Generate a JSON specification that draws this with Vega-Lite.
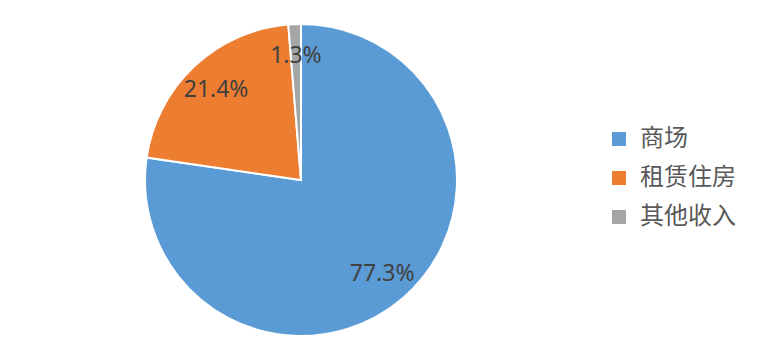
{
  "$schema": "https://vega.github.io/schema/vega-lite/v6.json",
  "width": 312,
  "height": 312,
  "padding": {"left": 145, "top": 24, "right": 310, "bottom": 26},
  "autosize": {"type": "none"},
  "background": "white",
  "config": {"view": {"stroke": null}},
  "data": {"values": [
    {"category": "商场", "value": 77.3, "label": "77.3%", "order": 1},
    {"category": "租赁住房", "value": 21.4, "label": "21.4%", "order": 2},
    {"category": "其他收入", "value": 1.3, "label": "1.3%", "order": 3}
  ]},
  "encoding": {
    "theta": {"field": "value", "type": "quantitative", "stack": true},
    "order": {"field": "order", "type": "quantitative"}
  },
  "layer": [
    {
      "mark": {"type": "arc", "outerRadius": 156, "stroke": "white", "strokeWidth": 2},
      "encoding": {
        "color": {
          "field": "category", "type": "nominal",
          "scale": {"domain": ["商场", "租赁住房", "其他收入"], "range": ["#5B9BD5", "#ED7D31", "#A5A5A5"]},
          "legend": {
            "title": null, "orient": "none", "legendX": 462, "legendY": 103,
            "symbolType": "square", "symbolSize": 196, "symbolStrokeWidth": 0,
            "labelFont": "Noto Sans CJK SC", "labelFontSize": 24, "labelColor": "#595959",
            "labelOffset": 9, "rowPadding": 15, "labelLimit": 300
          }
        }
      }
    },
    {
      "mark": {"type": "text", "radius": 124, "fontSize": 23, "font": "Noto Sans", "color": "#404040"},
      "encoding": {"text": {"field": "label"}}
    }
  ]
}
